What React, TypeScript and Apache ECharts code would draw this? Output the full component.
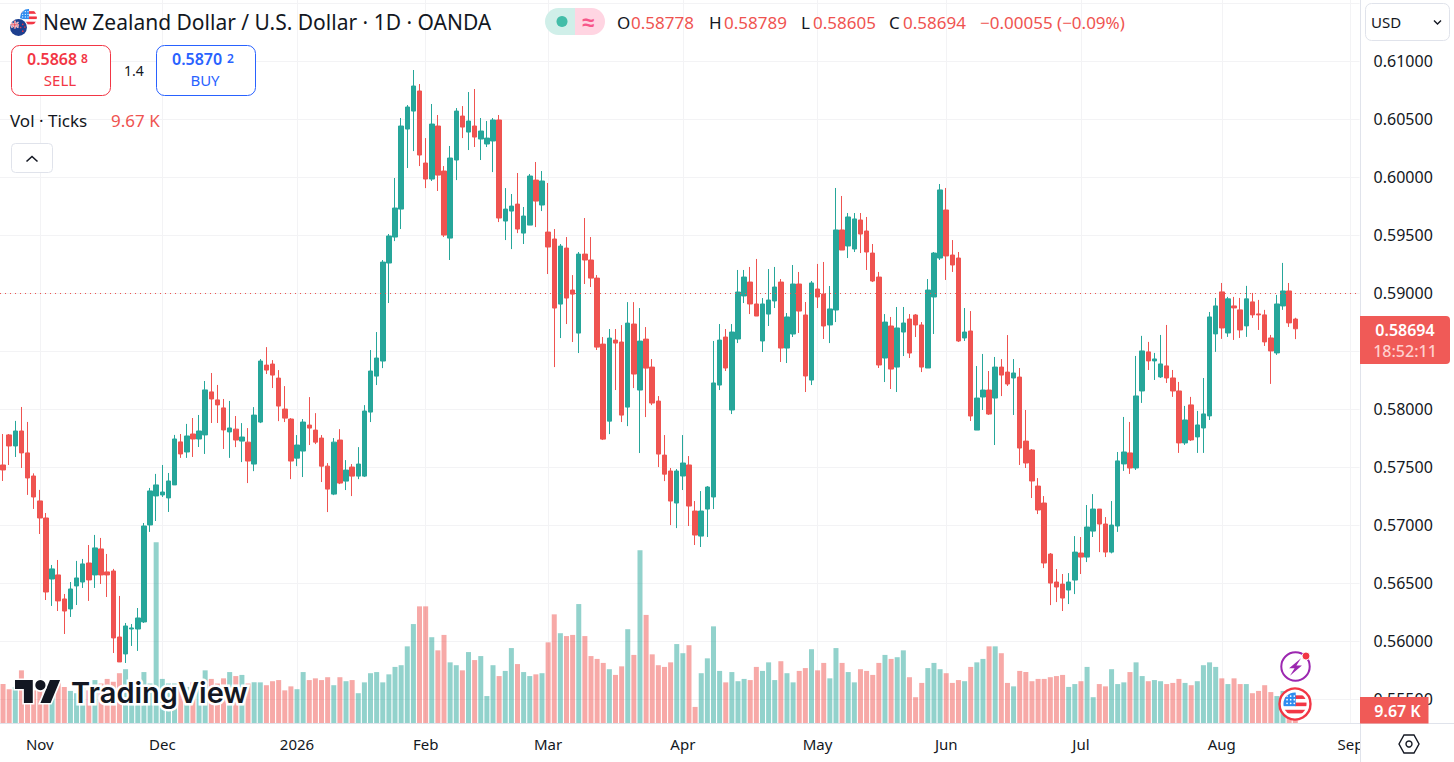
import React, { useEffect, useRef } from "react";
import * as echarts from "echarts";

// prices in units of 0.00001
const opens = [57520,57779,57684,57813,57624,57425,57210,57063,56537,56572,
56365,56279,56477,56511,56675,56572,56796,56598,56606,56037,
55891,56106,56106,56167,57003,57253,57262,57236,57348,57719,
57632,57787,57744,57779,58150,58081,58012,57805,57829,57726,
57717,57528,57890,58381,58390,58269,58002,57916,57579,57640,
57864,57821,57752,57510,57269,57735,57381,57502,57424,57424,
57976,58286,58416,59261,59485,59726,60416,60571,60744,60123,
59985,60442,60054,59476,60149,60528,60390,60442,60330,60287,
60313,60494,59623,59709,59769,59519,59588,59976,59761,59528,
59468,58907,59390,59028,58657,59338,59287,59131,58562,57898,
58597,58580,58019,58735,58166,58605,58364,58071,57605,57468,
57192,57425,57520,57123,56907,57140,57244,58209,58623,57994,
58606,58977,59097,58908,58589,58821,58934,59097,58528,58649,
59080,58813,58252,59037,58994,58727,58856,59546,59408,59382,
59632,59537,59347,59140,58442,58718,58364,58666,58778,58813,
58727,58356,58968,59304,59718,59330,59304,58615,58675,57821,
58106,58166,58097,58364,58321,58270,58278,57726,57649,57338,
57192,56752,56511,56493,56442,56528,56761,56726,56950,57140,
57011,56769,56994,57529,57624,57494,58158,58495,58417,58279,
58374,58270,58158,57710,58038,57762,57839,57943,58650,59012,
58658,58891,58857,58719,58926,58822,58814,58615,58486,58891,
59020,58778];
const highs = [57787,57787,57900,58020,57891,57448,57305,57106,56658,56701,
56408,56511,56693,56710,56830,56917,56891,56753,56624,56391,
56158,56149,56287,57020,57322,57443,57520,57451,57779,57787,
57874,57925,57951,58244,58313,58210,58089,58072,57942,57881,
57838,58019,58433,58536,58424,58338,58200,57924,57778,57916,
58105,57967,57778,57536,57752,57829,57562,57528,57674,58036,
58511,58666,59287,59511,59994,60511,60623,60925,60804,60338,
60632,60537,60097,60270,60597,60614,60735,60761,60511,60485,
60511,60537,59907,59856,60037,59744,60028,60132,60054,59951,
59554,59425,59485,59157,59356,59649,59485,59157,58623,58692,
58692,58726,58924,58924,58873,58709,58433,58114,57778,57494,
57485,57778,57597,57209,57295,57338,58589,58735,58692,58735,
59201,59201,59227,59296,58959,59209,59227,59123,58830,59244,
59184,58925,59106,59253,59270,59063,59908,59839,59692,59692,
59692,59658,59425,59184,58821,58796,58882,58882,58821,58821,
58752,59123,59356,59942,59908,59459,59356,58873,58847,58373,
58477,58330,58451,58433,58640,58433,58356,57994,57657,57407,
57252,56761,56623,56580,56588,56907,56899,57175,57269,57140,
57071,57209,57632,57934,57891,58460,58633,58581,58486,58641,
58727,58339,58236,58029,58107,57986,58270,58839,58960,59089,
58969,58969,58960,59064,59003,58943,58857,58641,58986,59262,
59089,58789];
const lows = [57382,57520,57589,57494,57262,57141,56925,56356,56305,56261,
56063,56210,56313,56460,56348,56460,56494,56382,55899,55822,
55813,55960,55917,56158,56943,57037,57244,57115,57348,57581,
57581,57589,57675,57615,57882,57882,57658,57581,57674,57545,
57364,57467,57881,58304,58183,57898,57890,57398,57510,57416,
57692,57700,57373,57114,57260,57355,57304,57252,57398,57416,
57890,58209,58355,58916,59450,59554,60080,60226,60097,59907,
59968,59882,59485,59287,59976,60338,60235,60261,60149,60261,
60045,59614,59459,59381,59519,59425,59588,59571,59709,59166,
58364,58614,58735,58580,58485,59080,59054,58511,57735,57786,
58166,57890,57855,58183,57623,57933,58036,57502,57381,57002,
56976,57304,56994,56830,56813,56899,57140,58166,58330,57959,
58571,58916,58821,58804,58494,58718,58873,58408,58399,58623,
58658,58149,58209,58873,58606,58571,58752,59373,59304,59356,
59347,59201,59097,58356,58235,58175,58149,58459,58442,58623,
58321,58356,58649,59287,59115,59184,58580,58589,57899,57821,
57994,57951,57692,58114,58201,57951,57520,57494,57235,57097,
56631,56312,56338,56261,56321,56407,56580,56683,56899,56769,
56726,56758,56943,57469,57443,57477,58055,58339,58253,58270,
58227,58107,57624,57693,57727,57624,57624,57908,58495,58607,
58624,58598,58615,58624,58788,58684,58546,58219,58469,58857,
58710,58605];
const closes = [57477,57684,57813,57624,57408,57244,57063,56425,56624,56348,
56261,56451,56546,56667,56529,56805,56572,56572,56029,55822,
56132,56115,56201,56994,57296,57348,57287,57382,57744,57615,
57770,57744,57813,58167,58089,58038,57822,57839,57735,57761,
57554,57950,58416,58338,58295,58028,57924,57554,57692,57890,
57838,57717,57510,57312,57717,57364,57476,57424,57528,57985,
58330,58442,59269,59494,59735,60442,60606,60787,60192,59985,
60459,60019,59502,60166,60571,60433,60485,60347,60399,60338,
60494,59649,59726,59752,59554,59666,60011,59795,59968,59399,
58873,59407,58959,58993,59338,59287,59131,58536,57743,58614,
58571,57950,58743,58304,58588,58355,58054,57614,57441,57209,
57468,57537,57166,56916,57123,57330,58227,58597,58356,58666,
59011,59140,58908,58804,58908,58942,59054,58528,58796,59080,
58847,58287,59089,58968,58718,58865,59546,59373,59658,59641,
59511,59356,59106,58382,58752,58347,58701,58744,58485,58727,
58364,59028,59347,59891,59322,59244,58589,58666,57942,58097,
58166,57959,58364,58295,58218,58313,57666,57537,57382,57132,
56675,56502,56468,56373,56511,56769,56726,56985,57140,57011,
56769,57002,57555,57632,57494,58115,58503,58417,58434,58391,
58270,58158,57710,57908,57736,57865,57960,58796,58891,58701,
58952,58874,58684,58952,58814,58814,58581,58503,58908,59020,
58745,58694];
// tick volume, thousands
const volumes = [69,60,64,93,64,58,58,61,70,72,
64,57,53,70,58,76,70,78,73,88,
95,70,76,90,70,317,78,70,70,64,
64,72,61,93,78,70,79,90,83,85,
70,72,72,67,74,76,58,65,60,90,
76,79,76,81,67,81,74,76,53,72,
88,90,72,86,99,102,135,174,205,205,
151,128,155,107,102,93,125,111,118,48,
102,83,92,132,104,90,83,86,88,142,
191,158,153,155,209,153,118,113,106,95,
85,100,165,120,303,190,121,102,99,107,
139,123,137,29,88,114,170,92,72,90,
74,78,76,99,92,107,76,109,88,72,
92,97,130,93,106,79,132,106,90,72,
95,92,85,106,120,113,116,128,81,46,
71,97,106,95,88,71,76,74,99,107,
113,135,135,123,71,65,92,90,74,78,
78,81,83,85,64,69,74,99,46,69,
65,95,69,72,90,107,83,74,76,74,
69,71,78,71,67,74,102,107,99,79,
69,79,69,69,53,57,67,55,48,57,
35,9.67];
const monthLabels = ["Nov","Dec","2026","Feb","Mar","Apr","May","Jun","Jul","Aug","Sep"];
const monthStarts = [6,26,48,69,89,111,133,154,176,199,220];
const SLOT_COUNT = 222;
const lastClose = 0.58694;

const UP = "#26a69a";
const DOWN = "#ef5350";
const INK = "#131722";
const FONT = "'Noto Sans', sans-serif";
const GRID_LINE = "#f3f3f5";
const SEP = "#e0e3eb";

const categories = Array.from({ length: SLOT_COUNT }, (_, i) => {
  const m = monthStarts.indexOf(i);
  return m >= 0 ? monthLabels[m] : `d${i}`;
});
const isMonth = (i: number) => monthStarts.includes(i);

echarts.graphic.registerShape("tvlogo", echarts.graphic.extendPath("M14 22H7V11H0V4h14v18zM28 22h-8l7.5-18h8L28 22z", {}));

const svg = (s: string) => "data:image/svg+xml;charset=utf-8," + encodeURIComponent(s);
const usFlag = svg(`<svg xmlns="http://www.w3.org/2000/svg" viewBox="0 0 36 36"><defs><clipPath id="c"><circle cx="18" cy="18" r="16"/></clipPath></defs><circle cx="18" cy="18" r="16" fill="#fff"/><g clip-path="url(#c)"><rect y="6" width="36" height="5" fill="#f23645"/><rect x="18" y="16" width="18" height="5" fill="#f23645"/><rect y="26" width="36" height="5" fill="#f23645"/><rect width="19" height="21" fill="#2f8cf0"/><g fill="#fff"><circle cx="7" cy="7" r="1.2"/><circle cx="12" cy="7" r="1.2"/><circle cx="17" cy="7" r="1.2"/><circle cx="7" cy="12" r="1.2"/><circle cx="12" cy="12" r="1.2"/><circle cx="17" cy="12" r="1.2"/><circle cx="7" cy="17" r="1.2"/><circle cx="12" cy="17" r="1.2"/><circle cx="17" cy="17" r="1.2"/></g></g></svg>`);
const nzFlag = svg(`<svg xmlns="http://www.w3.org/2000/svg" viewBox="0 0 36 36"><circle cx="18" cy="18" r="18" fill="#fff"/><circle cx="18" cy="18" r="16" fill="#1d3f8f"/><path d="M4 9L18 18M18 8L4 18" stroke="#fff" stroke-width="3"/><path d="M4 9L18 18M18 8L4 18" stroke="#e0394a" stroke-width="1.2"/><path d="M11 5V20M3 13H19" stroke="#fff" stroke-width="3.5"/><path d="M11 5V20M3 13H19" stroke="#e0394a" stroke-width="1.8"/><g fill="#e0394a"><circle cx="26" cy="12" r="1.6"/><circle cx="30" cy="17" r="1.6"/><circle cx="22" cy="18" r="1.6"/><circle cx="26" cy="25" r="1.6"/></g></svg>`);
const boltIcon = svg(`<svg xmlns="http://www.w3.org/2000/svg" viewBox="0 0 36 36"><circle cx="18" cy="18" r="15.5" fill="#fff" stroke="#9c27b0" stroke-width="2.2"/><path d="M24 9L11 20h6l-5 8 13-11h-6z" fill="#9c27b0"/></svg>`);

function txt(text: string, x: number, y: number, size: number, fill: string, extra: any = {}) {
  const { align, weight, ...rest } = extra;
  return {
    type: "text", x, y, z: 120, silent: true, ...rest,
    style: { text, fill, font: `${weight || 400} ${size}px ${FONT}`, textAlign: align || "left", textVerticalAlign: "middle" },
  };
}
const box = (x: number, y: number, w: number, h: number, style: any, r: any = 0, z = 110) => ({
  type: "rect", z, silent: true, shape: { x, y, width: w, height: h, r }, style,
});

function buildGraphic() {
  const logoScale = 1.27;
  return [
    { type: "line", z: 105, silent: true, shape: { x1: 0, y1: 723.5, x2: 1454, y2: 723.5 }, style: { stroke: SEP, lineWidth: 1 } },
    box(1360, 724, 94, 38, { fill: "#fff" }, 0, 106),
    { type: "line", z: 107, silent: true, shape: { x1: 1360.5, y1: 0, x2: 1360.5, y2: 762 }, style: { stroke: SEP, lineWidth: 1 } },
    // header
    { type: "image", z: 110, silent: true, x: 19, y: 8, style: { image: usFlag, width: 19, height: 19 } },
    { type: "image", z: 111, silent: true, x: 9, y: 18, style: { image: nzFlag, width: 19, height: 19 } },
    txt("New Zealand Dollar / U.S. Dollar · 1D · OANDA", 43, 22, 21, INK),
    box(545, 8, 30, 27, { fill: "#d0efe9" }, [13.5, 0, 0, 13.5]),
    box(575, 8, 30, 27, { fill: "#ffd5e2" }, [0, 13.5, 13.5, 0]),
    { type: "circle", z: 111, silent: true, shape: { cx: 562, cy: 21.5, r: 5.5 }, style: { fill: "#42bda8" } },
    txt("≈", 588, 21, 22, "#f7578a", { align: "center", weight: 700 }),
    txt("O", 617, 22, 17, INK), txt("0.58778", 631, 22, 17, DOWN),
    txt("H", 709, 22, 17, INK), txt("0.58789", 724, 22, 17, DOWN),
    txt("L", 801, 22, 17, INK), txt("0.58605", 813, 22, 17, DOWN),
    txt("C", 889, 22, 17, INK), txt("0.58694", 903, 22, 17, DOWN),
    txt("−0.00055 (−0.09%)", 980, 22, 17, DOWN),
    // trade buttons
    box(11.5, 45.5, 99, 50, { fill: "#fff", stroke: "#f23645", lineWidth: 1 }, 8),
    txt("0.5868", 27, 59, 16, "#f23645", { weight: 600 }),
    txt("8", 81, 58, 12, "#f23645", { weight: 600 }),
    txt("SELL", 60, 80, 15, "#f23645", { align: "center" }),
    txt("1.4", 134, 70, 14, INK, { align: "center" }),
    box(156.5, 45.5, 99, 50, { fill: "#fff", stroke: "#2962ff", lineWidth: 1 }, 8),
    txt("0.5870", 172, 59, 16, "#2962ff", { weight: 600 }),
    txt("2", 227, 58, 12, "#2962ff", { weight: 600 }),
    txt("BUY", 205, 80, 15, "#2962ff", { align: "center" }),
    txt("Vol · Ticks", 10, 120, 17, INK),
    txt("9.67 K", 111, 120, 17, DOWN),
    box(11.5, 143.5, 41, 29, { fill: "#fff", stroke: SEP, lineWidth: 1 }, 4),
    { type: "polyline", z: 111, silent: true, shape: { points: [[26.5, 161.5], [32, 156.5], [37.5, 161.5]] }, style: { stroke: INK, fill: "none", lineWidth: 1.6 } },
    // currency
    box(1365.5, 3.5, 84, 37, { fill: "#fff", stroke: SEP, lineWidth: 1 }, 6),
    txt("USD", 1371, 22, 15, INK),
    { type: "polyline", z: 121, silent: true, shape: { points: [[1434, 20.5], [1437.5, 24], [1441, 20.5]] }, style: { stroke: INK, fill: "none", lineWidth: 1.4 } },
    // last price tag
    box(1360, 316, 90, 48, { fill: "#f05a57" }, [0, 4, 4, 0]),
    txt("0.58694", 1405, 330, 16, "#ffffff", { align: "center", weight: 600 }),
    txt("18:52:11", 1405, 351, 16, "#ffd0ce", { align: "center", weight: 500 }),
    box(1360, 697, 68.5, 26.5, { fill: "#f05a57" }),
    txt("9.67 K", 1397.5, 710.5, 16, "#ffffff", { align: "center", weight: 600 }),
    // settings
    { type: "polygon", z: 111, silent: true, shape: { points: [[1399, 744], [1404, 735], [1414, 735], [1419, 744], [1414, 753], [1404, 753]] }, style: { fill: "#fff", stroke: INK, lineWidth: 1.4 } },
    { type: "circle", z: 112, silent: true, shape: { cx: 1409, cy: 744, r: 3 }, style: { fill: "#fff", stroke: INK, lineWidth: 1.4 } },
    // logo
    { type: "tvlogo", z: 115, silent: true, x: 15, y: 675, scaleX: logoScale, scaleY: logoScale, style: { fill: INK, stroke: "#fff", lineWidth: 2.6, strokeFirst: true } },
    { type: "circle", z: 115, silent: true, shape: { cx: 15 + 20 * logoScale, cy: 675 + 8 * logoScale, r: 4 * logoScale }, style: { fill: INK, stroke: "#fff", lineWidth: 3.2, strokeFirst: true } },
    { type: "text", z: 115, silent: true, x: 71, y: 692, style: { text: "TradingView", fill: INK, stroke: "#fff", lineWidth: 5, font: `600 29px Inter, ${FONT}`, textAlign: "left", textVerticalAlign: "middle" } },
    // markers
    { type: "image", z: 116, silent: true, x: 1279, y: 650, style: { image: boltIcon, width: 33, height: 33 } },
    { type: "circle", z: 117, silent: true, shape: { cx: 1306, cy: 656, r: 4 }, style: { fill: "#f23645", stroke: "#fff", lineWidth: 1 } },
    { type: "circle", z: 116, silent: true, shape: { cx: 1295, cy: 704, r: 15.5 }, style: { fill: "#fff", stroke: "#f23645", lineWidth: 2.4 } },
    { type: "image", z: 117, silent: true, x: 1282, y: 691, style: { image: usFlag, width: 26, height: 26 } },
  ];
}

export default function App() {
  const ref = useRef<HTMLDivElement>(null);
  useEffect(() => {
    const chart = echarts.init(ref.current!, undefined, { renderer: "svg" });
    const P = (n: number) => n / 100000;
    const candleData = opens.map((o, i) => [P(o), P(closes[i]), P(lows[i]), P(highs[i])]);
    const volumeData = volumes.map((v, i) => ({
      value: v,
      itemStyle: { color: closes[i] >= opens[i] ? "rgba(38,166,154,0.5)" : "rgba(239,83,80,0.5)" },
    }));
    const gridLeft = -2.77;
    const gridRight = 94.4;
    chart.setOption({
      animation: false,
      backgroundColor: "#ffffff",
      grid: [
        { left: gridLeft, right: gridRight, top: 3.3, height: 696 },
        { left: gridLeft, right: gridRight, top: 0, height: 723.5 },
      ],
      xAxis: [
        { type: "category", gridIndex: 0, data: categories, show: false },
        {
          type: "category", gridIndex: 1, data: categories,
          axisLine: { show: false }, axisTick: { show: false },
          splitLine: { show: true, interval: (i: number) => isMonth(i), alignWithLabel: true, lineStyle: { color: GRID_LINE, width: 1 } },
          axisLabel: { interval: (i: number) => isMonth(i), color: INK, fontFamily: FONT, fontSize: 15, margin: 13, hideOverlap: false },
        },
      ],
      yAxis: [
        {
          type: "value", gridIndex: 0, position: "right", min: 0.555, max: 0.615, interval: 0.005,
          axisLine: { show: false }, axisTick: { show: false },
          splitLine: { show: true, lineStyle: { color: GRID_LINE, width: 1 } },
          axisLabel: { color: INK, fontFamily: FONT, fontSize: 16, margin: 14, showMaxLabel: false, showMinLabel: true, formatter: (v: number) => v.toFixed(5) },
        },
        { type: "value", gridIndex: 1, min: 0, max: 1266, show: false },
      ],
      series: [
        {
          type: "bar", xAxisIndex: 1, yAxisIndex: 1, data: volumeData, barWidth: 5, z: 1,
        },
        {
          type: "candlestick", xAxisIndex: 0, yAxisIndex: 0, data: candleData, barWidth: 5, z: 3,
          clip: false,
          itemStyle: { color: UP, color0: DOWN, borderColor: UP, borderColor0: DOWN, borderWidth: 1 },
          markLine: {
            silent: true, symbol: "none", animation: false, label: { show: false },
            lineStyle: { color: DOWN, type: [1, 4], width: 1 },
            data: [{ yAxis: lastClose }],
          },
        },
      ],
      graphic: buildGraphic(),
    });
    return () => chart.dispose();
  }, []);
  return <div ref={ref} style={{ position: "absolute", left: 0, top: 0, width: 1454, height: 762 }} />;
}
